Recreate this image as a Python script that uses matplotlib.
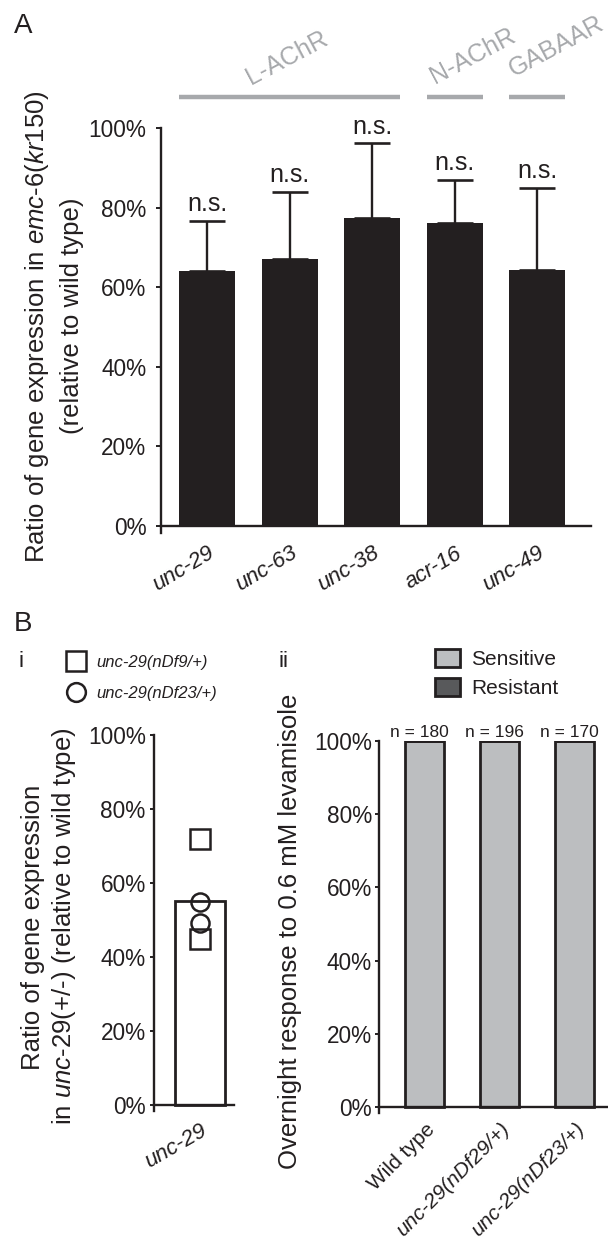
import matplotlib
matplotlib.use("Agg")
import matplotlib.pyplot as plt
from matplotlib.lines import Line2D
from matplotlib.patches import Patch

plt.rcParams['font.family'] = ['Liberation Sans', 'DejaVu Sans']
plt.rcParams['mathtext.fontset'] = 'custom'
plt.rcParams['mathtext.rm'] = 'Liberation Sans'
plt.rcParams['mathtext.it'] = 'Liberation Sans:italic'
plt.rcParams['text.color'] = '#231f20'
plt.rcParams['axes.edgecolor'] = '#231f20'

# ---------------- data ----------------
genes_a = ['unc-29', 'unc-63', 'unc-38', 'acr-16', 'unc-49']
ratio_a = [64.0, 67.0, 77.5, 76.2, 64.2]
err_a = [12.7, 17.0, 18.7, 10.8, 20.8]
sig_a = ['n.s.', 'n.s.', 'n.s.', 'n.s.', 'n.s.']
groups = ['L-AChR', 'N-AChR', 'GABAAR']
group_span = [(0, 2), (3, 3), (4, 4)]

gene_bi = ['unc-29']
mean_bi = [55.1]
nDf9_vals = [71.9, 44.9]
nDf23_vals = [54.9, 49.2]

strains_ii = ['Wild type', 'unc-29(nDf29/+)', 'unc-29(nDf23/+)']
sensitive = [100, 100, 100]
resistant = [0, 0, 0]
n_ii = [180, 196, 170]
yticks = [0, 20, 40, 60, 80, 100]
ytick_labels = ['0%', '20%', '40%', '60%', '80%', '100%']

W, H = 608, 1246
fig = plt.figure(figsize=(W / 100, H / 100), dpi=100)
INK = '#231f20'
GREY = '#a7a9ac'


def px_axes(left, right, top, bottom):
    return fig.add_axes([left / W, 1 - bottom / H, (right - left) / W, (bottom - top) / H])


def style(ax, ylo, pad, xpad, tl=3, xls=16):
    ax.set_ylim(ylo, 100)
    for s in ['top', 'right']:
        ax.spines[s].set_visible(False)
    ax.spines['bottom'].set_position(('data', 0))
    ax.spines['left'].set_linewidth(1.7)
    ax.spines['bottom'].set_linewidth(1.7)
    ax.set_yticks(yticks)
    ax.set_yticklabels(ytick_labels)
    ax.tick_params(axis='y', length=tl, width=1.4, labelsize=16.3, pad=pad, colors=INK)
    ax.tick_params(axis='x', length=0, labelsize=xls, pad=xpad, colors=INK)
    ax.set_facecolor('none')


# ---------------- Panel A ----------------
axA = px_axes(161, 591, 128, 533)
xa = list(range(len(genes_a)))
wA = 56 / 82.5
axA.bar(xa, ratio_a, width=wA, color=INK, zorder=2)
axA.errorbar(xa, ratio_a, yerr=[[0] * len(err_a), err_a], fmt='none', ecolor=INK,
             elinewidth=1.7, capsize=13.3, capthick=1.9, zorder=1)
axA.set_xlim(-0.558, 4.65)
style(axA, -1.75, 7, 12, tl=3.5)
axA.set_xticks(xa)
axA.set_xticklabels(genes_a, rotation=31, ha='right', rotation_mode='anchor', fontstyle='italic')
for lab in axA.get_xticklabels():
    x0, y0 = lab.get_position()
for x, m, e, s in zip(xa, ratio_a, err_a, sig_a):
    axA.text(x, m + e + 2.4, s, ha='center', va='baseline', fontsize=18, clip_on=False)
for g, (i0, i1) in zip(groups, group_span):
    axA.plot([i0 - wA / 2, i1 + wA / 2], [107.7, 107.7], color=GREY, lw=3.2,
             solid_capstyle='butt', clip_on=False)
axA.text(0.97, 117.5, groups[0], rotation=28, ha='center', va='center', fontsize=18, color=GREY)
axA.text(3.22, 118, groups[1], rotation=28, ha='center', va='center', fontsize=18, color=GREY)
axA.text(4.23, 120.5, groups[2], rotation=28, ha='center', va='center', fontsize=18, color=GREY)
fig.text(37 / W, 1 - 327 / H, r"Ratio of gene expression in $\it{emc}$-$\it{6(kr150)}$",
         rotation=90, ha='center', va='center', fontsize=18.5)
fig.text(72 / W, 1 - 316 / H, "(relative to wild type)",
         rotation=90, ha='center', va='center', fontsize=18.5)

# ---------------- Panel B i ----------------
axBi = px_axes(154, 234, 735, 1111)
wBi = 0.6
axBi.bar([0], mean_bi, width=wBi, color='white', edgecolor=INK, linewidth=2.0, zorder=2)
axBi.plot([0] * len(nDf9_vals), nDf9_vals, ls='none', marker='s', ms=14.5, mfc='none',
          mec=INK, mew=1.8, zorder=3, clip_on=False)
axBi.plot([0] * len(nDf23_vals), nDf23_vals, ls='none', marker='o', ms=13, mfc='none',
          mec=INK, mew=1.8, zorder=3, clip_on=False)
axBi.set_xlim(-0.563, 0.416)
style(axBi, -1.62, 3, 11)
axBi.set_xticks([0])
axBi.set_xticklabels(gene_bi, rotation=30, ha='right', rotation_mode='anchor', fontstyle='italic')
fig.text(33 / W, 1 - 927 / H, "Ratio of gene expression",
         rotation=90, ha='center', va='center', fontsize=18.5)
fig.text(64 / W, 1 - 926 / H, r"in $\it{unc}$-29(+/-) (relative to wild type)",
         rotation=90, ha='center', va='center', fontsize=18.5)
hi = [Line2D([], [], ls='none', marker='s', ms=15, mfc='none', mec=INK, mew=1.8),
      Line2D([], [], ls='none', marker='o', ms=13.5, mfc='none', mec=INK, mew=1.8)]
legi = fig.legend(hi, ['unc-29(nDf9/+)', 'unc-29(nDf23/+)'], loc='upper left',
                  bbox_to_anchor=(66 / W, 1 - 655 / H), frameon=False, fontsize=12,
                  handlelength=1.2, handletextpad=0.6, labelspacing=0.95, borderpad=0,
                  borderaxespad=0)
for t in legi.get_texts():
    t.set_fontstyle('italic')

# ---------------- Panel B ii ----------------
axBii = px_axes(379, 608, 741, 1113)
xii = list(range(len(strains_ii)))
wBii = 0.52
axBii.bar(xii, sensitive, width=wBii, color='#bcbec0', edgecolor=INK, linewidth=2.0,
          zorder=2, label='Sensitive')
axBii.bar(xii, resistant, bottom=sensitive, width=wBii, color='#58595b', edgecolor=INK,
          linewidth=2.0, zorder=2, label='Resistant')
axBii.set_xlim(-0.613, 2.44)
style(axBii, -1.64, 2, 9, xls=15)
axBii.set_xticks(xii)
axBii.set_xticklabels(strains_ii, rotation=45, ha='right', rotation_mode='anchor')
for lab in axBii.get_xticklabels()[1:]:
    lab.set_fontstyle('italic')
for x, n in zip(xii, n_ii):
    axBii.text(x - 0.07, 101.2, f"n = {n}", ha='center', va='baseline', fontsize=12.5,
               clip_on=False)
fig.text(290 / W, 1 - 931 / H, "Overnight response to 0.6 mM levamisole",
         rotation=90, ha='center', va='center', fontsize=18.5)
hii = [Patch(facecolor='#bcbec0', edgecolor=INK, linewidth=2.0),
       Patch(facecolor='#58595b', edgecolor=INK, linewidth=2.0)]
fig.legend(hii, ['Sensitive', 'Resistant'], loc='upper left',
           bbox_to_anchor=(435 / W, 1 - 649 / H), frameon=False, fontsize=15,
           handlelength=1.2, handleheight=0.96, handletextpad=0.55, labelspacing=0.42,
           borderpad=0, borderaxespad=0)

# ---------------- panel letters ----------------
fig.text(14 / W, 1 - 13 / H, 'A', ha='left', va='top', fontsize=20)
fig.text(14 / W, 1 - 611 / H, 'B', ha='left', va='top', fontsize=20)
fig.text(18 / W, 1 - 651 / H, 'i', ha='left', va='top', fontsize=16)
fig.text(279 / W, 1 - 651 / H, 'ii', ha='left', va='top', fontsize=16)

fig.savefig('out.png', dpi=100)
